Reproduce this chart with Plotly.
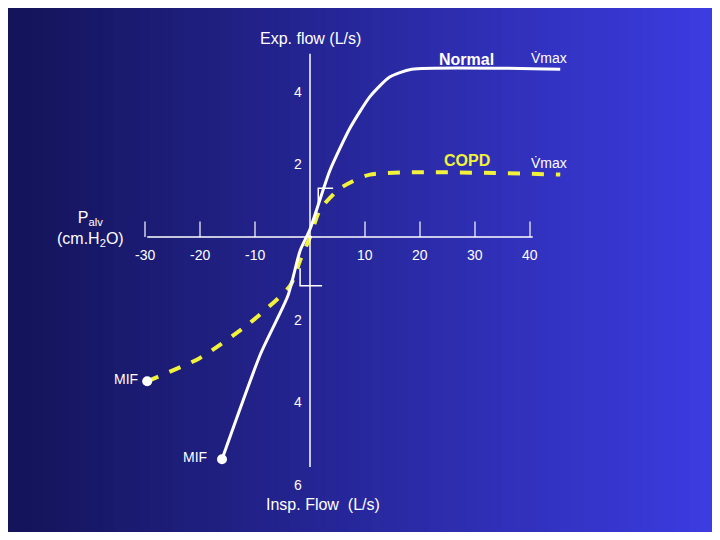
import plotly.graph_objects as go

# Data (Palv in cmH2O, flow in L/s; inspiratory flow negative)
normal_x = [-16, -9, -4, -1.8, 0, 3.6, 7.3, 10.9, 14.5, 18.5, 45.5]
normal_y = [-5.7, -3.0, -1.5, -0.35, 0.2, 1.7, 2.8, 3.6, 4.1, 4.3, 4.3]
copd_x = [-29.6, -20, -10.9, -3.6, -1.8, 0, 1.8, 5.5, 10.9, 45.5]
copd_y = [-3.7, -3.1, -2.2, -1.25, -0.6, 0, 0.7, 1.25, 1.6, 1.6]
x_ticks = [-30, -20, -10, 10, 20, 30, 40]
y_ticks_exp = [2, 4]
y_ticks_insp = [2, 4, 6]

PX = 5.5
fig = go.Figure()

# gradient background
N = 60
for i in range(N):
    t = i / (N - 1)
    r = int(20 + t * 40); g = int(20 + t * 40); b = int(90 + t * 135)
    fig.add_shape(type="rect", xref="paper", yref="paper", x0=i / N, x1=(i + 1) / N + 0.002,
                  y0=0, y1=1, fillcolor=f"rgb({r},{g},{b})", line_width=0, layer="below")

W = "white"
fig.add_shape(type="line", x0=-29.6, x1=40.5, y0=0, y1=0, line=dict(color=W, width=1.5))
fig.add_shape(type="line", x0=0, x1=0, y0=4.7, y1=-5.9, line=dict(color=W, width=1.5))
for xv in x_ticks:
    fig.add_shape(type="line", x0=xv, x1=xv, y0=0, y1=0.4, line=dict(color=W, width=1.2))
    fig.add_annotation(x=xv, y=-0.45, text=str(xv), showarrow=False, font=dict(color=W, size=14))
for yv in y_ticks_exp:
    fig.add_annotation(x=-2.2, y=yv * 0.93, text=str(yv), showarrow=False, font=dict(color=W, size=14))
for yv in y_ticks_insp:
    fig.add_annotation(x=-2.2, y=-yv * 1.06, text=str(yv), showarrow=False, font=dict(color=W, size=14))
fig.add_shape(type="path", path="M 1.5,0.8 L 1.5,1.25 L 4.2,1.25", line=dict(color=W, width=1.5))
fig.add_shape(type="path", path="M -1.8,-0.8 L -1.8,-1.25 L 2.2,-1.25", line=dict(color=W, width=1.5))

fig.add_trace(go.Scatter(x=copd_x, y=copd_y, mode="lines", line=dict(color="#f2f23a", width=4, dash="dash", shape="spline", smoothing=0.6)))
fig.add_trace(go.Scatter(x=normal_x, y=normal_y, mode="lines", line=dict(color=W, width=3, shape="spline", smoothing=0.6)))
fig.add_trace(go.Scatter(x=[copd_x[0], normal_x[0]], y=[copd_y[0], normal_y[0]], mode="markers",
                         marker=dict(color=W, size=10)))

def txt(x, y, s, size=15, color=W, bold=False):
    fig.add_annotation(x=x, y=y, text=f"<b>{s}</b>" if bold else s, showarrow=False,
                       font=dict(color=color, size=size))

txt(0, 5.1, "Exp. flow (L/s)", 16)
txt(28.5, 4.55, "Normal", 16, bold=True)
txt(43.5, 4.6, "V̇max", 14)
txt(28.5, 1.95, "COPD", 16, color="#f2f23a", bold=True)
txt(43.5, 1.9, "V̇max", 14)
txt(-40, 0.2, "P<sub>alv</sub><br>(cm.H<sub>2</sub>O)", 16)
txt(-33.5, -3.65, "MIF", 14)
txt(-21, -5.65, "MIF", 14)
txt(2.3, -6.85, "Insp. Flow  (L/s)", 16)

fig.update_layout(width=704, height=524, margin=dict(l=0, r=0, t=0, b=0), showlegend=False,
                  plot_bgcolor="rgba(0,0,0,0)", paper_bgcolor="#1a1a5a",
                  font=dict(family="Liberation Sans, Arial"),
                  xaxis=dict(range=[-302 / PX, 402 / PX], visible=False),
                  yaxis=dict(range=[-(524 - 229) / 39, 229 / 39], visible=False))
fig.write_html("out.html")
